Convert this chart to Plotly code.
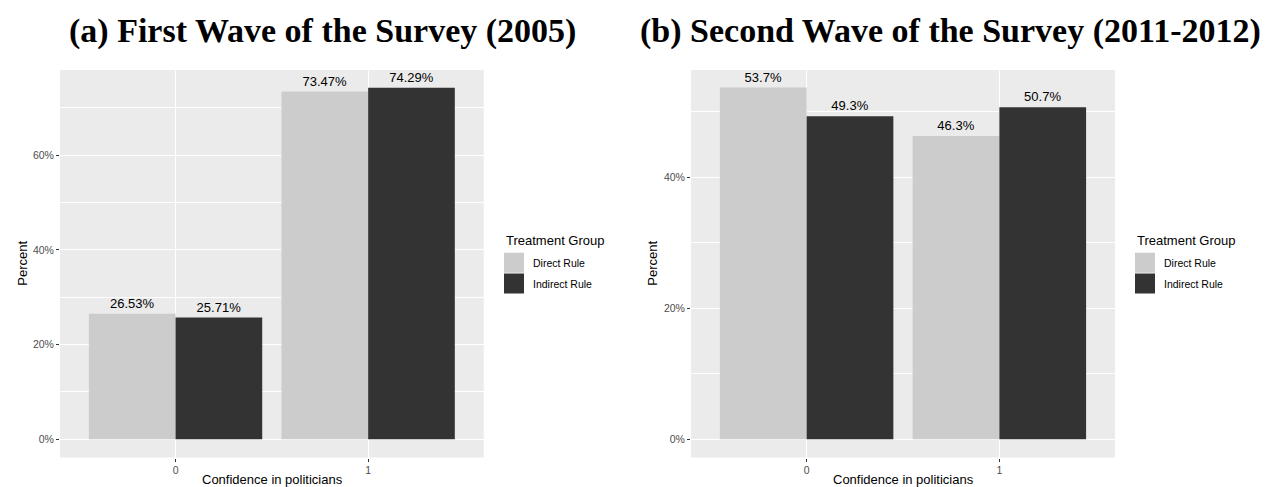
import plotly.graph_objects as go

W, H = 1267, 487

categories = [0, 1]
groups = ["Direct Rule", "Indirect Rule"]
colors = ["#CCCCCC", "#333333"]

wave1_direct = [26.53, 73.47]
wave1_indirect = [25.71, 74.29]
wave1_labels_direct = ["26.53%", "73.47%"]
wave1_labels_indirect = ["25.71%", "74.29%"]

wave2_direct = [53.7, 46.3]
wave2_indirect = [49.3, 50.7]
wave2_labels_direct = ["53.7%", "46.3%"]
wave2_labels_indirect = ["49.3%", "50.7%"]

titles = ["(a) First Wave of the Survey (2005)",
          "(b) Second Wave of the Survey (2011-2012)"]
x_title = "Confidence in politicians"
y_title = "Percent"
legend_title = "Treatment Group"

SANS = "Liberation Sans, Arial, sans-serif"
SERIF = "Liberation Serif, Times New Roman, serif"

def px(x):
    return x / W

def py(y):
    return 1 - y / H

fig = go.Figure()

panels = [
    (wave1_direct, wave1_indirect, wave1_labels_direct, wave1_labels_indirect, "x", "y"),
    (wave2_direct, wave2_indirect, wave2_labels_direct, wave2_labels_indirect, "x2", "y2"),
]
for d, ind, ld, li, xa, ya in panels:
    for vals, labs, name, col in [(d, ld, groups[0], colors[0]), (ind, li, groups[1], colors[1])]:
        fig.add_trace(go.Bar(
            x=categories, y=vals, name=name, marker=dict(color=col, line=dict(width=0)),
            text=labs, textposition="outside", cliponaxis=False, constraintext="none",
            textfont=dict(family=SANS, size=13, color="#000000"),
            xaxis=xa, yaxis=ya, showlegend=False, hoverinfo="skip",
        ))

ydom = [py(457.5), py(70)]
xdom_a = [px(60), px(483.7)]
xdom_b = [px(691), px(1115)]

def xaxis(dom, anchor):
    return dict(
        domain=dom, anchor=anchor, range=[-0.6, 1.6], tickvals=[0, 1], ticktext=["0", "1"],
        showgrid=True, gridcolor="#FFFFFF", gridwidth=1.1, zeroline=False,
        ticks="outside", ticklen=3, tickwidth=1, tickcolor="#333333",
        tickfont=dict(family=SANS, size=10.5, color="#4D4D4D"), showline=False, fixedrange=True,
    )

def yaxis(rng, tickvals, anchor):
    return dict(
        domain=ydom, anchor=anchor, range=rng, tickvals=tickvals,
        ticktext=[f"{v}%" for v in tickvals],
        showgrid=True, gridcolor="#FFFFFF", gridwidth=1.1, zeroline=False,
        ticks="outside", ticklen=3, tickwidth=1, tickcolor="#333333",
        tickfont=dict(family=SANS, size=10.5, color="#4D4D4D"), showline=False,
        minor=dict(showgrid=True, gridcolor="#FFFFFF", gridwidth=0.55, dtick=10, tick0=0, ticks=""),
        fixedrange=True,
    )

annotations = []
shapes = []

# titles
for t, cx in zip(titles, [322, 950]):
    annotations.append(dict(text=f"<b>{t}</b>", x=px(cx), y=py(31), xref="paper", yref="paper",
                            xanchor="center", yanchor="middle", showarrow=False,
                            font=dict(family=SERIF, size=34, color="#000000")))

# axis titles
for cx, yx in [(272, 23), (903, 653)]:
    annotations.append(dict(text=x_title, x=px(cx), y=py(479.5), xref="paper", yref="paper",
                            xanchor="center", yanchor="middle", showarrow=False,
                            font=dict(family=SANS, size=13, color="#000000")))
    annotations.append(dict(text=y_title, x=px(yx), y=py(263.7), xref="paper", yref="paper",
                            xanchor="center", yanchor="middle", showarrow=False, textangle=-90,
                            font=dict(family=SANS, size=13, color="#000000")))

# legends
for lx in [504, 1135]:
    annotations.append(dict(text=legend_title, x=px(lx), y=py(240.7), xref="paper", yref="paper",
                            xanchor="left", yanchor="middle", showarrow=False,
                            font=dict(family=SANS, size=13, color="#000000")))
    for i, (g, c) in enumerate(zip(groups, colors)):
        y0 = 252.7 + i * 20.8
        shapes.append(dict(type="rect", xref="paper", yref="paper",
                           x0=px(lx), x1=px(lx + 20), y0=py(y0), y1=py(y0 + 20),
                           fillcolor=c, line=dict(width=0), layer="above"))
        annotations.append(dict(text=g, x=px(lx + 27), y=py(y0 + 10.5), xref="paper", yref="paper",
                                xanchor="left", yanchor="middle", showarrow=False,
                                font=dict(family=SANS, size=10.5, color="#000000")))

fig.update_layout(
    width=W, height=H, margin=dict(l=0, r=0, t=0, b=0),
    paper_bgcolor="#FFFFFF", plot_bgcolor="#EBEBEB",
    barmode="group", bargap=0.1, bargroupgap=0,
    xaxis=xaxis(xdom_a, "y"), yaxis=yaxis([-3.85, 78.02], [0, 20, 40, 60], "x"),
    xaxis2=xaxis(xdom_b, "y2"), yaxis2=yaxis([-2.78, 56.38], [0, 20, 40], "x2"),
    annotations=annotations, shapes=shapes, showlegend=False,
)

fig.write_html("out.html", config=dict(displayModeBar=False),
               post_script="document.body.style.margin='0';document.body.style.padding='0';document.body.style.overflow='hidden';")
